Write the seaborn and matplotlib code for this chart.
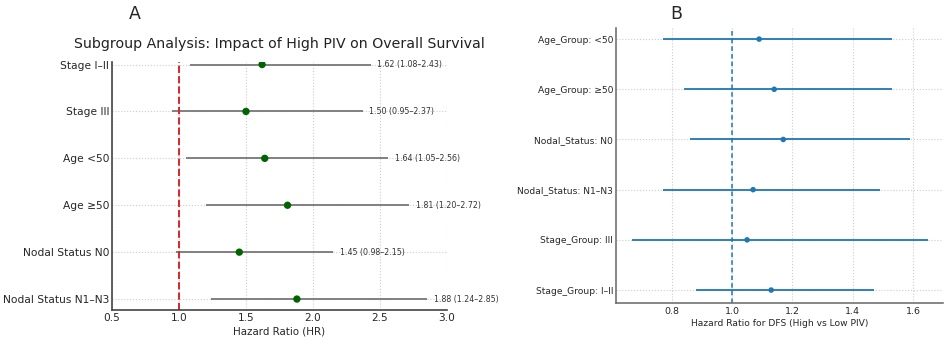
import numpy as np
import pandas as pd
import matplotlib
matplotlib.use("Agg")
import matplotlib.pyplot as plt
import seaborn as sns

# Panel A: overall survival
os_groups = ["Stage I\u2013II", "Stage III", "Age <50", "Age \u226550",
             "Nodal Status N0", "Nodal Status N1\u2013N3"]
os_hr = [1.62, 1.50, 1.64, 1.81, 1.45, 1.88]
os_lo = [1.08, 0.95, 1.05, 1.20, 0.98, 1.24]
os_hi = [2.43, 2.37, 2.56, 2.72, 2.15, 2.85]

# Panel B: disease-free survival
dfs_groups = ["Age_Group: <50", "Age_Group: \u226550", "Nodal_Status: N0",
              "Nodal_Status: N1\u2013N3", "Stage_Group: III", "Stage_Group: I\u2013II"]
dfs_hr = [1.09, 1.14, 1.17, 1.07, 1.05, 1.13]
dfs_lo = [0.77, 0.84, 0.86, 0.77, 0.67, 0.88]
dfs_hi = [1.53, 1.53, 1.59, 1.49, 1.65, 1.47]

sns.set_style("white")
plt.rcParams["font.family"] = ["DejaVu Sans"]

fig = plt.figure(figsize=(9.45, 3.4), dpi=100)
axA = fig.add_axes([0.1185, 0.088, 0.3545, 0.7295])
axB = fig.add_axes([0.652, 0.110, 0.346, 0.8075])

# ---- A ----
dfA = pd.DataFrame({"group": os_groups, "hr": os_hr, "lo": os_lo, "hi": os_hi})
dfA["pos"] = np.arange(len(dfA))
axA.hlines(dfA["pos"], dfA["lo"], dfA["hi"], color="#808080", lw=1.4, zorder=2)
sns.scatterplot(data=dfA, x="hr", y="pos", ax=axA, color="#006400", s=28,
                edgecolor="none", zorder=3)
axA.axvline(1.0, color="#d62728", ls="--", lw=1.4, zorder=2)
for _, r in dfA.iterrows():
    axA.text(r["hi"] + 0.05, r["pos"], f"{r['hr']:.2f} ({r['lo']:.2f}\u2013{r['hi']:.2f})",
             va="center", ha="left", fontsize=5.7, color="#333333")
axA.set_yticks(dfA["pos"])
axA.set_yticklabels(os_groups, fontsize=7.65)
axA.set_xlim(0.5, 3.0)
axA.set_xticks([0.5, 1.0, 1.5, 2.0, 2.5, 3.0])
axA.tick_params(axis="x", labelsize=7.6, length=0, pad=2)
axA.tick_params(axis="y", length=0, pad=2)
axA.set_ylim(5.235, -0.053)
axA.grid(True, ls=":", color="#cccccc", lw=0.8)
axA.set_axisbelow(True)
axA.set_xlabel("Hazard Ratio (HR)", fontsize=7.4, labelpad=2.5)
axA.set_ylabel("")
axA.set_title("Subgroup Analysis: Impact of High PIV on Overall Survival",
              fontsize=10.2, color="#222222", pad=10)
for s in ["top", "right"]:
    axA.spines[s].set_visible(False)
for s in ["left", "bottom"]:
    axA.spines[s].set_color("#444444")
    axA.spines[s].set_linewidth(1.2)
fig.text(0.143, 0.96, "A", fontsize=12.5, ha="center", va="center")

# ---- B ----
dfB = pd.DataFrame({"group": dfs_groups, "hr": dfs_hr, "lo": dfs_lo, "hi": dfs_hi})
dfB["pos"] = np.arange(len(dfB))
axB.hlines(dfB["pos"], dfB["lo"], dfB["hi"], color="#1f77b4", lw=1.3, zorder=2)
sns.scatterplot(data=dfB, x="hr", y="pos", ax=axB, color="#1f77b4", s=16,
                edgecolor="none", zorder=3)
axB.axvline(1.0, color="#1f77b4", ls=(0, (3, 2)), lw=1.1, zorder=2)
axB.set_yticks(dfB["pos"])
axB.set_yticklabels(dfs_groups, fontsize=6.6)
axB.set_xlim(0.616, 1.70)
axB.set_xticks([0.8, 1.0, 1.2, 1.4, 1.6])
axB.tick_params(axis="x", labelsize=6.8, length=0, pad=3)
axB.tick_params(axis="y", length=0, pad=2)
axB.set_ylim(5.25, -0.22)
axB.grid(True, ls=":", color="#cccccc", lw=0.8)
axB.set_axisbelow(True)
axB.set_xlabel("Hazard Ratio for DFS (High vs Low PIV)", fontsize=6.6, labelpad=2)
axB.set_ylabel("")
for s in ["top", "right"]:
    axB.spines[s].set_visible(False)
for s in ["left", "bottom"]:
    axB.spines[s].set_color("#666666")
    axB.spines[s].set_linewidth(1.1)
fig.text(0.716, 0.96, "B", fontsize=12.5, ha="center", va="center")

fig.savefig("out.png", dpi=100)
